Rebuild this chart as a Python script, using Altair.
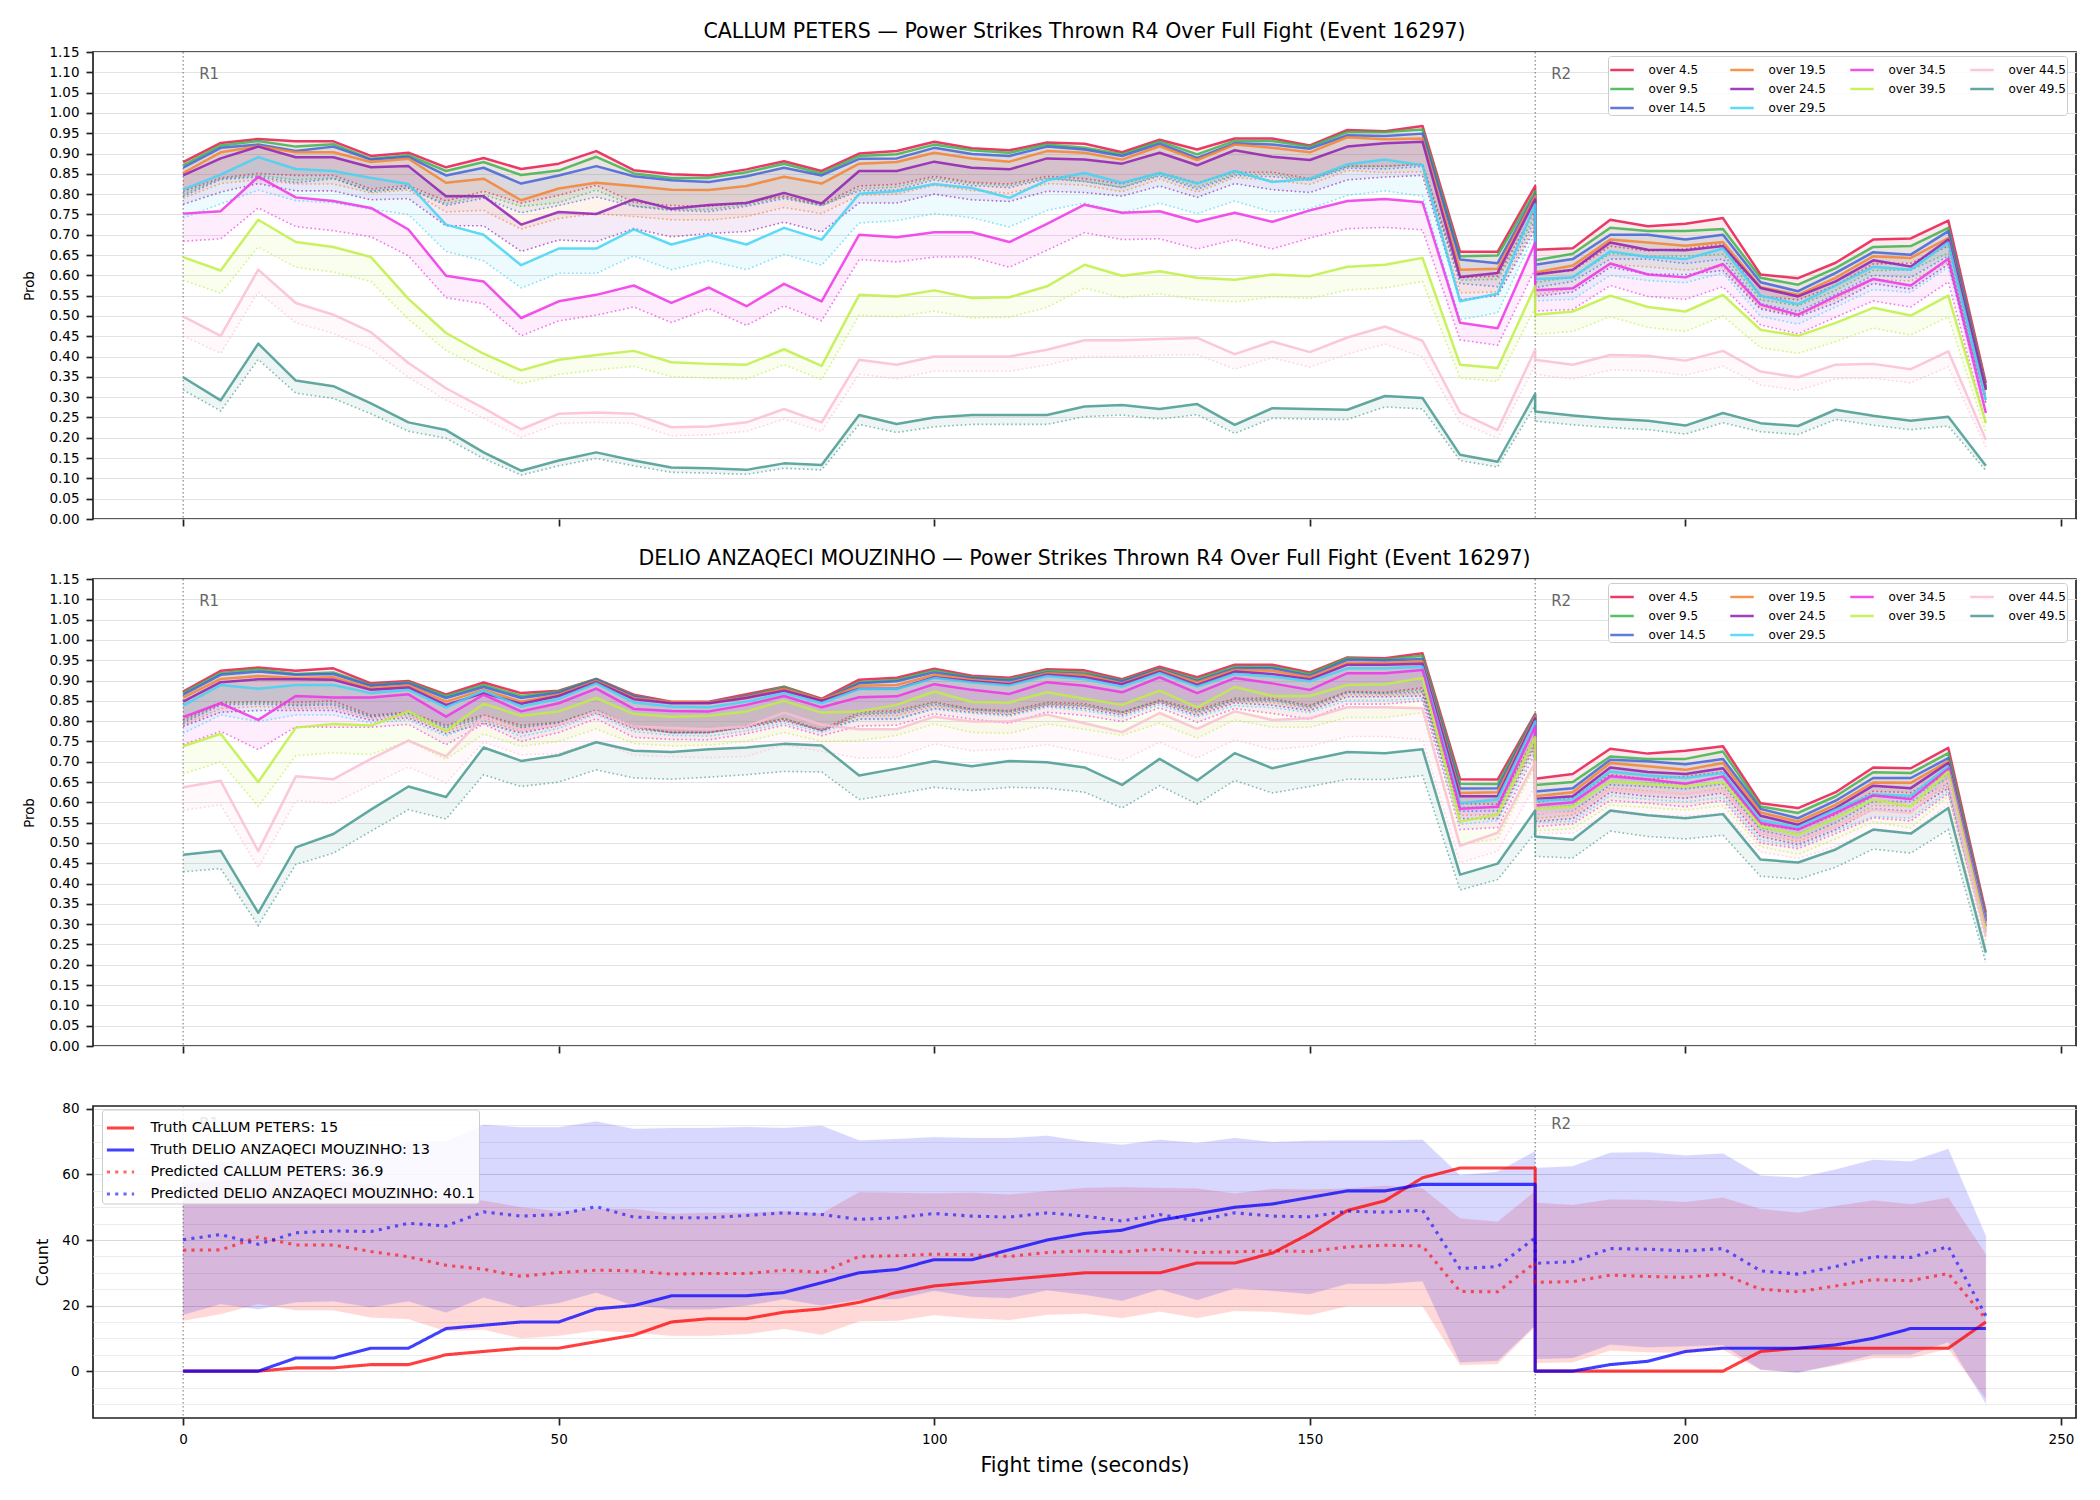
import altair as alt
import pandas as pd

# ---------------------------------------------------------------------------
# Time grid (seconds). Round 1 spans 0-180 s, round 2 restarts at 180 s.
# ---------------------------------------------------------------------------
TIMES_R1 = list(range(0, 181, 5))
TIMES_R2 = list(range(180, 241, 5))
TIMES = TIMES_R1 + TIMES_R2
ROUND = ["R1"] * len(TIMES_R1) + ["R2"] * len(TIMES_R2)

ROUND_STARTS = [0, 180]
ROUND_NAMES = ["R1", "R2"]

THRESHOLDS = ["over 4.5", "over 9.5", "over 14.5", "over 19.5", "over 24.5",
              "over 29.5", "over 34.5", "over 39.5", "over 44.5", "over 49.5"]
LINE_COLORS = ["#e6194b", "#3cb44b", "#4363d8", "#f58231", "#911eb4",
               "#42d4f4", "#f032e6", "#bfef45", "#fabed4", "#469990"]

# ---------------------------------------------------------------------------
# CALLUM PETERS: P(power strikes thrown > threshold), estimate and lower bound
# (37 round-1 points followed by 13 round-2 points)
# ---------------------------------------------------------------------------
CP_45 = [.879, .926, .936, .930, .930, .894, .902, .866, .889, .862, .875, .906, .859, .849, .846, .861, .881, .857, .900, .906,
         .929, .913, .908, .927, .924, .903, .934, .910, .937, .937, .920, .958, .955, .968, .658, .658, .820,
         .663, .667, .737, .721, .727, .741, .602, .593, .631, .688, .691, .735, .335]
CP_45_LO = [.807, .840, .851, .846, .846, .813, .821, .783, .807, .778, .797, .822, .780, .772, .770, .780, .795, .774, .820, .824,
            .844, .829, .825, .844, .838, .825, .852, .828, .854, .854, .838, .869, .869, .873, .594, .598, .760,
            .605, .612, .672, .660, .665, .678, .548, .540, .575, .628, .630, .672, .300]
CP_95 = [.871, .920, .931, .917, .923, .887, .896, .857, .879, .847, .858, .892, .851, .840, .840, .854, .875, .851, .894, .898,
         .922, .908, .902, .922, .914, .898, .930, .898, .931, .931, .917, .953, .953, .959, .647, .649, .807,
         .637, .653, .717, .709, .709, .714, .594, .577, .618, .670, .672, .717, .326]
CP_95_LO = [.800, .838, .846, .835, .840, .806, .815, .776, .798, .770, .779, .810, .771, .762, .762, .774, .793, .771, .813, .817,
            .840, .826, .821, .840, .832, .817, .848, .817, .849, .849, .835, .868, .868, .874, .588, .590, .745,
            .582, .596, .654, .647, .647, .652, .540, .525, .563, .612, .613, .655, .293]
CP_145 = [.865, .914, .922, .906, .917, .885, .892, .846, .865, .826, .846, .869, .844, .834, .830, .844, .865, .846, .887, .888,
          .914, .899, .894, .917, .910, .894, .924, .889, .925, .922, .912, .945, .943, .949, .639, .630, .799,
          .626, .640, .700, .700, .688, .700, .583, .561, .606, .657, .651, .709, .322]
CP_145_LO = [.795, .836, .842, .828, .838, .808, .815, .772, .790, .754, .772, .793, .770, .760, .757, .770, .789, .772, .808, .810,
             .835, .821, .816, .838, .831, .816, .845, .812, .846, .843, .834, .864, .862, .868, .580, .572, .735,
             .570, .585, .640, .640, .629, .640, .530, .511, .553, .600, .595, .648, .290]
CP_195 = [.852, .903, .918, .903, .903, .879, .887, .828, .838, .785, .814, .828, .820, .811, .810, .820, .843, .826, .875, .879,
          .902, .888, .880, .906, .902, .885, .918, .884, .922, .914, .903, .940, .935, .937, .614, .616, .795,
          .607, .624, .688, .681, .673, .682, .571, .552, .594, .647, .643, .692, .318]
CP_195_LO = [.790, .826, .836, .825, .825, .803, .810, .756, .760, .714, .740, .752, .745, .737, .736, .745, .767, .752, .797, .800,
             .822, .809, .802, .826, .822, .806, .837, .805, .841, .834, .824, .858, .853, .855, .557, .559, .725,
             .552, .568, .627, .621, .613, .622, .519, .502, .541, .590, .586, .632, .287]
CP_245 = [.846, .888, .917, .891, .891, .866, .869, .795, .795, .725, .756, .751, .787, .764, .773, .778, .803, .777, .857, .857,
          .880, .865, .861, .888, .885, .875, .902, .871, .908, .892, .884, .917, .925, .929, .596, .606, .787,
          .602, .614, .681, .663, .662, .672, .569, .548, .585, .637, .622, .688, .318]
CP_245_LO = [.775, .805, .826, .808, .808, .786, .789, .722, .722, .659, .687, .683, .715, .695, .703, .708, .731, .707, .778, .778,
             .800, .786, .782, .807, .804, .795, .820, .792, .826, .811, .804, .835, .842, .846, .540, .550, .715,
             .548, .559, .620, .603, .602, .612, .517, .498, .532, .580, .566, .627, .285]
CP_295 = [.811, .848, .891, .862, .857, .840, .825, .725, .700, .625, .666, .666, .713, .676, .700, .676, .717, .688, .801, .807,
          .825, .815, .791, .834, .852, .828, .852, .826, .857, .830, .838, .873, .885, .871, .536, .555, .775,
          .591, .595, .659, .645, .640, .666, .550, .529, .575, .621, .614, .681, .293]
CP_295_LO = [.741, .776, .810, .784, .779, .763, .750, .659, .636, .569, .605, .605, .648, .614, .636, .614, .652, .625, .729, .735,
             .752, .742, .719, .760, .778, .754, .778, .752, .783, .756, .764, .797, .808, .795, .491, .508, .705,
             .537, .541, .600, .587, .582, .606, .499, .480, .522, .565, .558, .620, .262]
CP_345 = [.752, .758, .843, .792, .783, .766, .713, .599, .585, .495, .536, .552, .575, .532, .570, .524, .579, .536, .700, .694,
          .706, .706, .682, .727, .774, .754, .758, .732, .754, .732, .760, .783, .788, .780, .483, .470, .680,
          .563, .568, .629, .602, .595, .628, .528, .503, .548, .591, .575, .641, .261]
CP_345_LO = [.684, .690, .766, .720, .710, .695, .648, .545, .530, .451, .488, .502, .522, .484, .518, .477, .525, .488, .639, .633,
             .645, .645, .620, .662, .705, .688, .690, .665, .688, .665, .692, .715, .718, .712, .441, .428, .615,
             .512, .516, .575, .548, .541, .572, .478, .456, .497, .537, .522, .584, .235]
CP_395 = [.645, .612, .737, .682, .670, .645, .542, .458, .407, .366, .392, .404, .414, .386, .382, .380, .418, .377, .552, .548,
          .563, .544, .546, .573, .626, .599, .610, .594, .589, .602, .598, .621, .626, .643, .380, .372, .573,
          .503, .511, .550, .522, .511, .552, .466, .451, .483, .520, .501, .550, .236]
CP_395_LO = [.588, .556, .670, .620, .608, .585, .492, .415, .370, .333, .356, .367, .376, .351, .347, .345, .380, .343, .502, .498,
             .512, .495, .497, .521, .569, .545, .555, .540, .535, .547, .543, .564, .569, .585, .347, .339, .520,
             .455, .462, .498, .472, .462, .500, .422, .408, .437, .470, .453, .498, .213]
CP_445 = [.499, .451, .614, .532, .503, .460, .384, .322, .273, .221, .259, .262, .259, .226, .228, .238, .271, .238, .392, .380,
          .400, .400, .400, .417, .440, .440, .443, .446, .406, .437, .411, .447, .474, .439, .262, .219, .417,
          .392, .380, .404, .402, .390, .414, .363, .349, .380, .382, .369, .413, .195]
CP_445_LO = [.451, .408, .559, .483, .457, .418, .349, .293, .248, .201, .235, .238, .235, .205, .207, .216, .246, .216, .357, .345,
             .364, .364, .364, .379, .400, .400, .403, .405, .369, .397, .374, .406, .431, .399, .238, .199, .379,
             .356, .345, .367, .365, .354, .376, .330, .317, .345, .347, .335, .375, .177]
CP_495 = [.349, .292, .432, .341, .327, .285, .238, .219, .164, .119, .144, .164, .144, .127, .125, .121, .137, .133, .256, .234,
          .250, .256, .256, .256, .277, .281, .271, .283, .232, .273, .271, .269, .303, .298, .158, .141, .308,
          .265, .255, .247, .242, .230, .261, .236, .229, .269, .254, .242, .252, .131]
CP_495_LO = [.318, .266, .393, .310, .297, .259, .216, .199, .149, .108, .131, .149, .131, .115, .113, .110, .125, .121, .233, .213,
             .227, .233, .233, .233, .252, .256, .246, .257, .211, .248, .246, .245, .276, .271, .144, .128, .280,
             .241, .232, .225, .220, .209, .237, .215, .208, .245, .231, .220, .229, .119]

# ---------------------------------------------------------------------------
# DELIO ANZAQECI MOUZINHO: same thresholds
# ---------------------------------------------------------------------------
DAM_45 = [.873, .924, .932, .924, .930, .893, .899, .866, .895, .869, .875, .904, .865, .848, .848, .866, .885, .855, .902, .907,
          .929, .912, .907, .928, .925, .903, .934, .908, .939, .939, .920, .957, .955, .967, .657, .656, .818,
          .658, .670, .732, .720, .727, .738, .598, .586, .625, .686, .684, .734, .328]
DAM_45_LO = [.803, .846, .848, .846, .850, .815, .822, .790, .815, .790, .797, .826, .787, .772, .772, .788, .806, .779, .822, .826,
             .847, .830, .826, .846, .843, .822, .852, .828, .856, .856, .839, .873, .871, .882, .597, .595, .760,
             .600, .612, .668, .657, .664, .675, .545, .533, .570, .627, .624, .670, .298]
DAM_95 = [.869, .918, .928, .916, .920, .889, .896, .862, .889, .862, .873, .904, .862, .846, .846, .862, .884, .852, .896, .902,
          .925, .908, .903, .924, .920, .900, .930, .903, .934, .934, .916, .955, .952, .961, .646, .645, .816,
          .643, .650, .713, .707, .707, .725, .590, .574, .615, .674, .672, .721, .320]
DAM_95_LO = [.799, .843, .846, .840, .844, .812, .820, .787, .812, .786, .797, .828, .786, .771, .771, .787, .807, .776, .818, .823,
             .845, .829, .824, .844, .840, .822, .850, .825, .853, .853, .837, .872, .869, .878, .588, .587, .754,
             .585, .592, .651, .646, .646, .662, .537, .522, .560, .615, .613, .659, .291]
DAM_145 = [.865, .914, .922, .914, .916, .887, .893, .857, .884, .857, .870, .902, .861, .846, .846, .861, .881, .851, .893, .898,
           .920, .906, .900, .920, .916, .898, .928, .899, .930, .930, .912, .951, .949, .953, .634, .635, .813,
           .627, .635, .705, .701, .694, .707, .584, .561, .604, .660, .660, .709, .316]
DAM_145_LO = [.795, .840, .842, .838, .840, .811, .818, .783, .808, .783, .795, .826, .787, .772, .772, .787, .805, .776, .816, .820,
              .841, .828, .822, .841, .837, .821, .849, .822, .851, .851, .834, .870, .868, .872, .578, .579, .750,
              .571, .578, .643, .639, .633, .645, .531, .510, .550, .602, .602, .647, .287]
DAM_195 = [.858, .904, .911, .906, .908, .881, .888, .848, .877, .848, .865, .899, .857, .847, .846, .859, .880, .852, .887, .889,
           .914, .902, .893, .918, .914, .893, .926, .895, .926, .924, .908, .944, .943, .947, .623, .625, .811,
           .615, .625, .697, .689, .680, .697, .575, .553, .594, .649, .648, .701, .311]
DAM_195_LO = [.790, .831, .836, .831, .833, .807, .813, .776, .802, .776, .792, .823, .784, .775, .774, .786, .805, .779, .812, .814,
              .837, .826, .818, .841, .837, .818, .848, .819, .848, .846, .831, .865, .864, .868, .568, .570, .745,
              .560, .569, .635, .628, .620, .635, .523, .503, .541, .592, .591, .640, .283]
DAM_245 = [.848, .896, .903, .903, .902, .877, .883, .840, .869, .843, .862, .896, .854, .844, .844, .857, .875, .850, .880, .880,
           .908, .898, .891, .914, .908, .891, .922, .889, .922, .916, .903, .939, .939, .941, .615, .615, .807,
           .608, .615, .686, .675, .670, .684, .567, .545, .586, .641, .635, .697, .307]
DAM_245_LO = [.787, .822, .826, .826, .826, .802, .808, .769, .795, .771, .789, .820, .781, .772, .772, .784, .801, .777, .805, .805,
              .831, .822, .815, .837, .831, .815, .845, .814, .845, .839, .826, .860, .860, .862, .560, .560, .740,
              .553, .560, .625, .615, .610, .623, .516, .496, .533, .584, .578, .635, .279]
DAM_295 = [.838, .889, .880, .889, .889, .869, .877, .834, .875, .836, .855, .893, .846, .836, .834, .848, .869, .844, .879, .879,
           .906, .895, .888, .911, .903, .885, .918, .885, .916, .910, .898, .930, .930, .934, .598, .607, .799,
           .604, .607, .676, .666, .660, .672, .556, .539, .582, .620, .616, .689, .303]
DAM_295_LO = [.770, .815, .799, .815, .815, .796, .803, .763, .801, .762, .782, .817, .774, .765, .763, .776, .795, .772, .804, .804,
              .829, .819, .812, .834, .826, .810, .840, .810, .838, .833, .821, .851, .851, .855, .546, .555, .730,
              .550, .553, .616, .607, .601, .612, .507, .491, .530, .565, .561, .628, .276]
DAM_345 = [.810, .844, .803, .862, .858, .858, .866, .811, .865, .824, .844, .880, .830, .825, .824, .840, .862, .834, .859, .861,
           .891, .877, .867, .896, .887, .871, .908, .869, .906, .893, .877, .918, .918, .926, .584, .589, .787,
           .592, .600, .664, .656, .646, .664, .549, .533, .574, .617, .608, .683, .295]
DAM_345_LO = [.742, .775, .730, .786, .785, .785, .792, .742, .793, .750, .772, .806, .760, .755, .754, .769, .790, .764, .788, .790,
              .818, .805, .795, .822, .814, .799, .833, .797, .831, .819, .805, .842, .842, .850, .533, .538, .720,
              .540, .547, .605, .598, .589, .605, .500, .486, .523, .562, .554, .622, .269]
DAM_395 = [.738, .769, .650, .784, .793, .789, .824, .776, .843, .813, .824, .857, .818, .811, .813, .824, .850, .821, .824, .840,
           .873, .847, .846, .871, .855, .840, .875, .834, .884, .862, .862, .889, .891, .906, .553, .570, .760,
           .584, .589, .652, .645, .639, .650, .541, .520, .561, .607, .590, .676, .287]
DAM_395_LO = [.670, .700, .590, .715, .722, .718, .751, .706, .768, .738, .750, .781, .745, .739, .741, .750, .772, .750, .752, .765,
              .793, .772, .770, .793, .780, .765, .795, .758, .803, .785, .785, .809, .809, .821, .496, .510, .690,
              .530, .535, .593, .587, .581, .592, .491, .472, .510, .552, .537, .615, .261]
DAM_445 = [.637, .653, .480, .664, .657, .707, .752, .713, .811, .779, .791, .824, .787, .783, .780, .787, .821, .791, .780, .780,
           .811, .799, .799, .816, .795, .773, .820, .781, .824, .803, .807, .834, .834, .832, .493, .525, .700,
           .574, .575, .631, .625, .621, .629, .525, .508, .541, .582, .574, .656, .270]
DAM_445_LO = [.580, .594, .439, .604, .598, .643, .687, .648, .748, .717, .720, .750, .716, .712, .710, .713, .742, .725, .709, .711,
              .744, .727, .731, .742, .723, .703, .748, .709, .754, .730, .738, .762, .762, .754, .451, .480, .640,
              .523, .524, .575, .569, .566, .573, .478, .462, .492, .530, .523, .597, .245]
DAM_495 = [.471, .481, .328, .489, .522, .582, .639, .613, .735, .702, .716, .748, .727, .724, .731, .735, .744, .740, .666, .683,
           .701, .689, .702, .699, .686, .643, .707, .654, .721, .684, .705, .724, .721, .731, .422, .449, .580,
           .516, .508, .580, .568, .561, .571, .459, .452, .484, .533, .523, .586, .230]
DAM_495_LO = [.429, .437, .297, .447, .475, .529, .582, .559, .668, .639, .650, .680, .660, .657, .662, .668, .676, .675, .607, .621,
              .637, .629, .637, .635, .625, .586, .641, .596, .654, .623, .639, .657, .656, .666, .384, .410, .525,
              .467, .463, .529, .516, .510, .519, .418, .411, .440, .485, .475, .533, .205]

# ---------------------------------------------------------------------------
# Cumulative counts: truth, predicted median and predicted band
# ---------------------------------------------------------------------------
TRUTH_CP = [0, 0, 0, 1, 1, 2, 2, 5, 6, 7, 7, 9, 11, 15, 16, 16, 18, 19, 21, 24, 26, 27, 28, 29, 30, 30, 30, 33, 33, 36,
            42, 49, 52, 59, 62, 62, 62,
            0, 0, 0, 0, 0, 0, 6, 7, 7, 7, 7, 7, 15]
TRUTH_DAM = [0, 0, 0, 4, 4, 7, 7, 13, 14, 15, 15, 19, 20, 23, 23, 23, 24, 27, 30, 31, 34, 34, 37, 40, 42, 43, 46, 48, 50, 51,
             53, 55, 55, 57, 57, 57, 57,
             0, 0, 2, 3, 6, 7, 7, 7, 8, 10, 13, 13, 13]
PRED_CP = [36.9, 37.0, 40.9, 38.5, 38.5, 36.5, 34.9, 32.3, 31.1, 28.9, 30.1, 30.8, 30.6, 29.6, 29.8, 29.8, 30.8, 30.1, 35.0, 35.2,
           35.7, 35.5, 35.0, 36.2, 36.7, 36.4, 37.2, 36.2, 36.4, 36.7, 36.5, 37.9, 38.4, 38.2, 24.3, 24.2, 33.1,
           27.1, 27.3, 29.3, 28.9, 28.6, 29.6, 25.0, 24.2, 26.0, 27.9, 27.6, 29.8, 15.9]
PRED_DAM = [40.1, 41.7, 38.7, 42.2, 42.8, 42.6, 45.1, 44.3, 48.6, 47.3, 47.8, 50.2, 47.0, 46.8, 46.8, 47.5, 48.3, 47.8, 46.3, 46.8,
            48.1, 47.3, 47.0, 48.3, 47.3, 45.8, 47.8, 45.8, 48.3, 47.3, 47.1, 48.8, 48.5, 49.1, 31.3, 31.9, 40.7,
            32.9, 33.4, 37.4, 37.2, 36.7, 37.4, 30.6, 29.6, 31.9, 34.9, 34.7, 38.0, 16.9]
BAND_CP_LO = [15.4, 17.4, 20.5, 18.6, 18.6, 16.4, 15.9, 12.2, 12.7, 10.0, 10.8, 12.4, 11.7, 10.8, 10.8, 11.3, 12.9, 11.1, 15.2, 15.4,
              17.1, 16.1, 15.6, 17.2, 17.6, 16.2, 18.2, 16.2, 18.4, 18.1, 17.1, 19.8, 19.8, 19.8, 1.9, 2.2, 13.7,
              2.5, 2.7, 6.3, 5.8, 5.6, 6.5, 0.4, -0.3, 1.7, 4.0, 4.0, 6.8, -8.4]
BAND_CP_HI = [57.0, 58.0, 60.0, 59.0, 58.0, 57.0, 55.0, 53.0, 52.0, 50.0, 48.8, 49.5, 49.5, 48.0, 48.3, 48.3, 48.8, 48.1, 54.6, 54.4,
              54.2, 54.4, 53.9, 54.9, 55.9, 56.1, 55.9, 55.7, 54.2, 55.6, 55.4, 55.7, 56.6, 55.7, 46.6, 45.6, 54.9,
              51.4, 50.7, 52.4, 52.2, 51.6, 52.9, 49.5, 48.3, 50.4, 52.1, 50.9, 52.9, 35.7]
BAND_DAM_LO = [17.2, 20.5, 18.9, 21.0, 21.3, 19.5, 21.3, 17.9, 22.5, 19.5, 20.8, 24.0, 20.0, 18.9, 18.9, 20.0, 22.0, 20.0, 21.8, 22.0,
               24.5, 22.7, 22.3, 24.7, 23.3, 21.5, 25.0, 21.7, 25.3, 24.5, 23.5, 26.7, 26.7, 27.4, 2.7, 3.2, 13.9,
               3.7, 4.0, 8.1, 7.3, 7.6, 8.0, 0.5, -0.5, 2.0, 5.1, 5.1, 8.8, -9.9]
BAND_DAM_HI = [63.0, 64.0, 64.0, 65.0, 66.0, 67.0, 70.0, 70.0, 75.2, 74.4, 74.4, 76.2, 73.9, 74.2, 74.2, 74.5, 74.2, 74.9, 70.4, 70.8,
               71.4, 71.1, 71.1, 71.8, 70.1, 69.1, 70.6, 69.6, 71.1, 69.9, 70.3, 70.4, 70.4, 70.6, 59.8, 60.8, 67.1,
               62.0, 62.5, 66.6, 66.8, 65.8, 66.4, 59.7, 59.0, 61.5, 64.5, 64.0, 67.8, 41.2]

CP_NAME = "CALLUM PETERS"
DAM_NAME = "DELIO ANZAQECI MOUZINHO"
SUBTITLE = "Power Strikes Thrown R4 Over Full Fight (Event 16297)"

CP_SERIES = [CP_45, CP_95, CP_145, CP_195, CP_245, CP_295, CP_345, CP_395, CP_445, CP_495]
CP_LOWER = [CP_45_LO, CP_95_LO, CP_145_LO, CP_195_LO, CP_245_LO, CP_295_LO, CP_345_LO, CP_395_LO, CP_445_LO, CP_495_LO]
DAM_SERIES = [DAM_45, DAM_95, DAM_145, DAM_195, DAM_245, DAM_295, DAM_345, DAM_395, DAM_445, DAM_495]
DAM_LOWER = [DAM_45_LO, DAM_95_LO, DAM_145_LO, DAM_195_LO, DAM_245_LO, DAM_295_LO, DAM_345_LO, DAM_395_LO, DAM_445_LO, DAM_495_LO]

# ---------------------------------------------------------------------------
# Layout constants
# ---------------------------------------------------------------------------
W = 1983
H_PROB = 467
H_COUNT = 312
FONT = "DejaVu Sans"
X_TICKS = [0, 50, 100, 150, 200, 250]
PROB_TICKS = [round(i * 0.05, 2) for i in range(24)]
COUNT_TICKS = list(range(-10, 81, 5))

# domain order chosen so the 4-column legend grid reads column by column:
# (4.5, 9.5, 14.5) (19.5, 24.5, 29.5) (34.5, 39.5) (44.5, 49.5)
LEGEND_ORDER_IDX = [0, 1, 9, 3, 4, 2, 6, 7, 5, 8]
LEGEND_ORDER = [THRESHOLDS[i] for i in LEGEND_ORDER_IDX]
LEGEND_COLORS = [LINE_COLORS[i] for i in LEGEND_ORDER_IDX]


def prob_frame(series, lower):
    rows = []
    for label, hi, lo in zip(THRESHOLDS, series, lower):
        assert len(hi) == len(TIMES) and len(lo) == len(TIMES), label
        for i, t in enumerate(TIMES):
            rows.append({"t": t, "thr": label, "hi": hi[i], "lo": lo[i], "idx": i, "seg": ROUND[i]})
    return pd.DataFrame(rows)


def x_enc(bottom):
    return alt.X(
        "t:Q",
        scale=alt.Scale(domain=[-12, 252], nice=False, zero=False),
        axis=alt.Axis(values=X_TICKS, labels=bottom, grid=False,
                      title="Fight time (seconds)" if bottom else None,
                      titleFontSize=20.5, titleY=47, titleBaseline="middle"),
    )


rounds_df = pd.DataFrame({"t": ROUND_STARTS, "lab": ROUND_NAMES})


def round_marks(bottom, label_y):
    rules = alt.Chart(rounds_df).mark_rule(
        color="#555555", strokeWidth=1, strokeDash=[1.5, 2.5], opacity=0.85
    ).encode(x=x_enc(bottom))
    labels = alt.Chart(rounds_df).mark_text(
        align="left", baseline="middle", dx=16, fontSize=15, color="#666666"
    ).encode(x=x_enc(bottom), y=alt.value(label_y), text="lab:N")
    return rules, labels


Y_PROB_SCALE = alt.Scale(domain=[0, 1.15], nice=False, zero=False)
Y_PROB_AXIS = alt.Axis(values=PROB_TICKS, format=".2f", title="Prob", titleFontSize=13.3,
                       titleX=-64, titleY=H_PROB / 2, titleBaseline="middle", titleAlign="center",
                       grid=True, gridColor="#e3e3e3")
COLOR_SCALE = alt.Scale(domain=LEGEND_ORDER, range=LEGEND_COLORS)


def prob_panel(frame, name):
    legend = alt.Legend(
        title=None, orient="none", legendX=1515, legendY=4, columns=4,
        symbolType="stroke", symbolSize=552, symbolStrokeWidth=2.5, symbolOpacity=0.85,
        labelFontSize=12, labelColor="#000000", labelOffset=13.5, columnPadding=19, rowPadding=0,
        padding=1, fillColor="rgba(255,255,255,0.85)", strokeColor="#cccccc", cornerRadius=3,
    )
    base = alt.Chart(frame)
    y_hi = alt.Y("hi:Q", scale=Y_PROB_SCALE, axis=Y_PROB_AXIS)
    y_lo = alt.Y("lo:Q", scale=Y_PROB_SCALE, axis=Y_PROB_AXIS)
    # shaded band between estimate and lower bound
    band = base.mark_area(opacity=0.09).encode(
        x=x_enc(False), y=y_hi, y2="lo:Q",
        fill=alt.Fill("thr:N", scale=COLOR_SCALE, legend=None), detail="seg:N")
    # dotted lower bound
    lower = base.mark_line(strokeWidth=1.6, strokeDash=[1.6, 2.6], opacity=0.65).encode(
        x=x_enc(False), y=y_lo,
        stroke=alt.Stroke("thr:N", scale=COLOR_SCALE, legend=None), order="idx:Q")
    # solid estimate (carries the legend)
    upper = base.mark_line(strokeWidth=2.5, opacity=0.85, strokeJoin="round").encode(
        x=x_enc(False), y=y_hi,
        color=alt.Color("thr:N", scale=COLOR_SCALE, legend=legend), order="idx:Q")
    rules, labels = round_marks(False, 22.3)
    return alt.layer(rules, band, lower, upper, labels).properties(
        width=W, height=H_PROB,
        title=alt.TitleParams(f"{name} \u2014 {SUBTITLE}", fontSize=20.5, fontWeight="normal",
                              color="#000000", anchor="middle", baseline="bottom", offset=-17.4),
    )


# ---------------------------------------------------------------------------
# Count panel
# ---------------------------------------------------------------------------
SERIES_LABELS = [
    f"Truth {CP_NAME}: {TRUTH_CP[-1]}",
    f"Truth {DAM_NAME}: {TRUTH_DAM[-1]}",
    f"Predicted {CP_NAME}: {PRED_CP[0]}",
    f"Predicted {DAM_NAME}: {PRED_DAM[0]}",
]
SERIES_COLORS = ["rgba(255,0,0,0.75)", "rgba(0,0,255,0.75)", "rgba(255,0,0,0.6)", "rgba(0,0,255,0.6)"]
SERIES_DASH = [[1, 0], [1, 0], [3.1, 5.2], [3.1, 5.2]]

line_rows = []
for label, vals in zip(SERIES_LABELS, [TRUTH_CP, TRUTH_DAM, PRED_CP, PRED_DAM]):
    assert len(vals) == len(TIMES), label
    for i, t in enumerate(TIMES):
        line_rows.append({"t": t, "val": vals[i], "series": label, "idx": i})
count_lines = pd.DataFrame(line_rows)


def band_frame(lo, hi):
    assert len(lo) == len(TIMES) and len(hi) == len(TIMES)
    return pd.DataFrame({"t": TIMES, "lo": lo, "hi": hi, "seg": ROUND})


Y_COUNT_SCALE = alt.Scale(domain=[-14.3, 80.9], nice=False, zero=False)
Y_COUNT_AXIS = alt.Axis(
    values=COUNT_TICKS, title="Count", titleFontSize=16, titleX=-50.5, titleY=H_COUNT / 2,
    titleBaseline="middle", titleAlign="center", grid=True,
    labelExpr="datum.value % 20 === 0 ? datum.label : ''",
    tickOpacity={"condition": {"test": "datum.value % 20 === 0", "value": 1}, "value": 0},
    gridColor={"condition": {"test": "datum.value % 20 === 0", "value": "#d9d9d9"}, "value": "#ececec"},
)

count_legend = alt.Legend(
    title=None, orient="none", legendX=9, legendY=3.5,
    symbolType="stroke", symbolSize=740, symbolStrokeWidth=3.1,
    labelFontSize=14.5, labelColor="#000000", labelOffset=14.5, rowPadding=0, labelLimit=600,
    padding=3, fillColor="rgba(255,255,255,0.85)", strokeColor="#cccccc", cornerRadius=3,
)


def band_layer(frame, color):
    return alt.Chart(frame).mark_area(
        color=color, opacity=0.15, stroke=color, strokeOpacity=0.15, strokeWidth=1.2
    ).encode(
        x=x_enc(True),
        y=alt.Y("lo:Q", scale=Y_COUNT_SCALE, axis=Y_COUNT_AXIS),
        y2="hi:Q",
        detail="seg:N",
    )


band_cp = band_layer(band_frame(BAND_CP_LO, BAND_CP_HI), "#ff0000")
band_dam = band_layer(band_frame(BAND_DAM_LO, BAND_DAM_HI), "#0000ff")

count_line_layer = alt.Chart(count_lines).mark_line(strokeWidth=3.1, strokeJoin="round").encode(
    x=x_enc(True),
    y=alt.Y("val:Q", scale=Y_COUNT_SCALE, axis=Y_COUNT_AXIS),
    color=alt.Color("series:N", scale=alt.Scale(domain=SERIES_LABELS, range=SERIES_COLORS), legend=count_legend),
    strokeDash=alt.StrokeDash("series:N", scale=alt.Scale(domain=SERIES_LABELS, range=SERIES_DASH), legend=count_legend),
    order="idx:Q",
)

c_rules, c_labels = round_marks(True, 17.6)
count_panel = alt.layer(band_cp, band_dam, c_rules, count_line_layer, c_labels).properties(
    width=W, height=H_COUNT
)

top = prob_panel(prob_frame(CP_SERIES, CP_LOWER), CP_NAME)
mid = prob_panel(prob_frame(DAM_SERIES, DAM_LOWER), DAM_NAME)

chart = (
    alt.vconcat(top, mid, count_panel, spacing=60, bounds="flush")
    .resolve_scale(color="independent", strokeDash="independent")
    .resolve_legend(color="independent", strokeDash="independent")
    .properties(padding={"left": 21, "top": 21, "right": 8, "bottom": 0}, background="white")
    .configure(font=FONT)
    .configure_view(stroke="#222222", strokeWidth=1.7)
    .configure_axis(
        labelFontSize=13.5, labelColor="#000000", labelFont=FONT,
        tickColor="#222222", tickWidth=1.7, tickSize=7, labelPadding=7,
        domain=False, titleFontWeight="normal", titleColor="#000000", titleFont=FONT, gridWidth=1,
    )
)

chart.save("out.html", embed_options={"renderer": "svg", "actions": False})
